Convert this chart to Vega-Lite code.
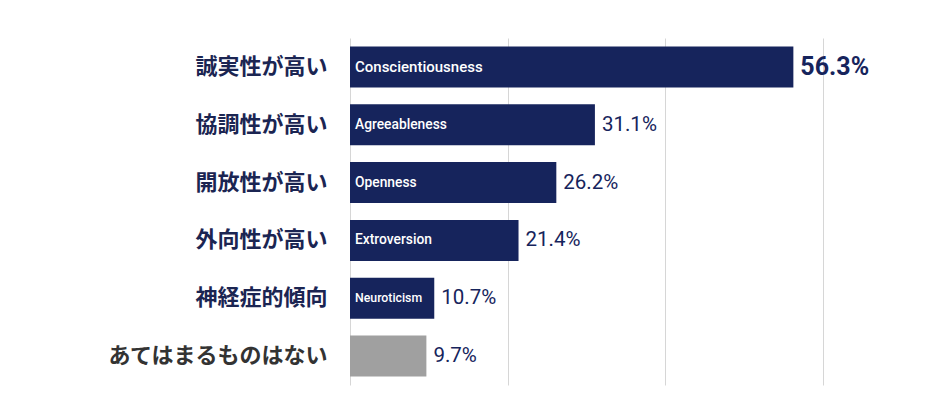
{
  "$schema": "https://vega.github.io/schema/vega-lite/v6.json",
  "autosize": "none",
  "width": 580,
  "height": 347,
  "padding": {"left": 350, "top": 38, "right": 0, "bottom": 31},
  "background": "white",
  "config": {"view": {"stroke": null}},
  "data": {"values": [
    {"category": "誠実性が高い", "trait": "Conscientiousness", "value": 56.3, "group": "trait"},
    {"category": "協調性が高い", "trait": "Agreeableness", "value": 31.1, "group": "trait"},
    {"category": "開放性が高い", "trait": "Openness", "value": 26.2, "group": "trait"},
    {"category": "外向性が高い", "trait": "Extroversion", "value": 21.4, "group": "trait"},
    {"category": "神経症的傾向", "trait": "Neuroticism", "value": 10.7, "group": "trait"},
    {"category": "あてはまるものはない", "trait": "", "value": 9.7, "group": "none"}
  ]},
  "encoding": {
    "y": {
      "field": "category", "type": "nominal", "sort": null, "title": null,
      "scale": {"paddingInner": 0.29, "paddingOuter": 0.145},
      "axis": {
        "domain": false, "ticks": false, "labelPadding": 23, "labelLimit": 400,
        "labelFont": "Noto Sans CJK JP", "labelFontSize": 22, "labelFontWeight": "bold",
        "labelColor": {"condition": {"test": "datum.value === 'あてはまるものはない'", "value": "#333333"}, "value": "#1b2552"}
      }
    },
    "x": {
      "field": "value", "type": "quantitative", "title": null,
      "scale": {"domain": [0, 73.65], "nice": false},
      "axis": {"values": [0, 20, 40, 60], "labels": false, "ticks": false, "domain": false, "grid": true, "gridColor": "#d6d6d6", "gridWidth": 1}
    }
  },
  "layer": [
    {
      "mark": {"type": "bar"},
      "encoding": {
        "color": {"field": "group", "type": "nominal", "legend": null,
          "scale": {"domain": ["trait", "none"], "range": ["#16245c", "#a0a0a0"]}}
      }
    },
    {
      "transform": [{"filter": "datum.value > 50"}],
      "mark": {"type": "text", "align": "left", "baseline": "middle", "color": "white", "font": "Roboto", "fontSize": 15, "fontWeight": 500, "dx": 5},
      "encoding": {"text": {"field": "trait"}, "x": {"datum": 0}}
    },
    {
      "transform": [{"filter": "datum.value < 50 && datum.value > 11"}],
      "mark": {"type": "text", "align": "left", "baseline": "middle", "color": "white", "font": "Roboto", "fontSize": 13.8, "fontWeight": 500, "dx": 5},
      "encoding": {"text": {"field": "trait"}, "x": {"datum": 0}}
    },
    {
      "transform": [{"filter": "datum.value < 11"}],
      "mark": {"type": "text", "align": "left", "baseline": "middle", "color": "white", "font": "Roboto", "fontSize": 12.3, "fontWeight": 500, "dx": 5},
      "encoding": {"text": {"field": "trait"}, "x": {"datum": 0}}
    },
    {
      "transform": [{"filter": "datum.value > 50"}, {"calculate": "format(datum.value, '.1f') + '%'", "as": "lbl"}],
      "mark": {"type": "text", "align": "left", "baseline": "middle", "color": "#16245c", "font": "Roboto", "fontSize": 25, "fontWeight": "bold", "dx": 7},
      "encoding": {"text": {"field": "lbl"}}
    },
    {
      "transform": [{"filter": "datum.value < 50"}, {"calculate": "format(datum.value, '.1f') + '%'", "as": "lbl"}],
      "mark": {"type": "text", "align": "left", "baseline": "middle", "color": "#16245c", "font": "Roboto", "fontSize": 20.5, "dx": 7},
      "encoding": {"text": {"field": "lbl"}}
    }
  ]
}
